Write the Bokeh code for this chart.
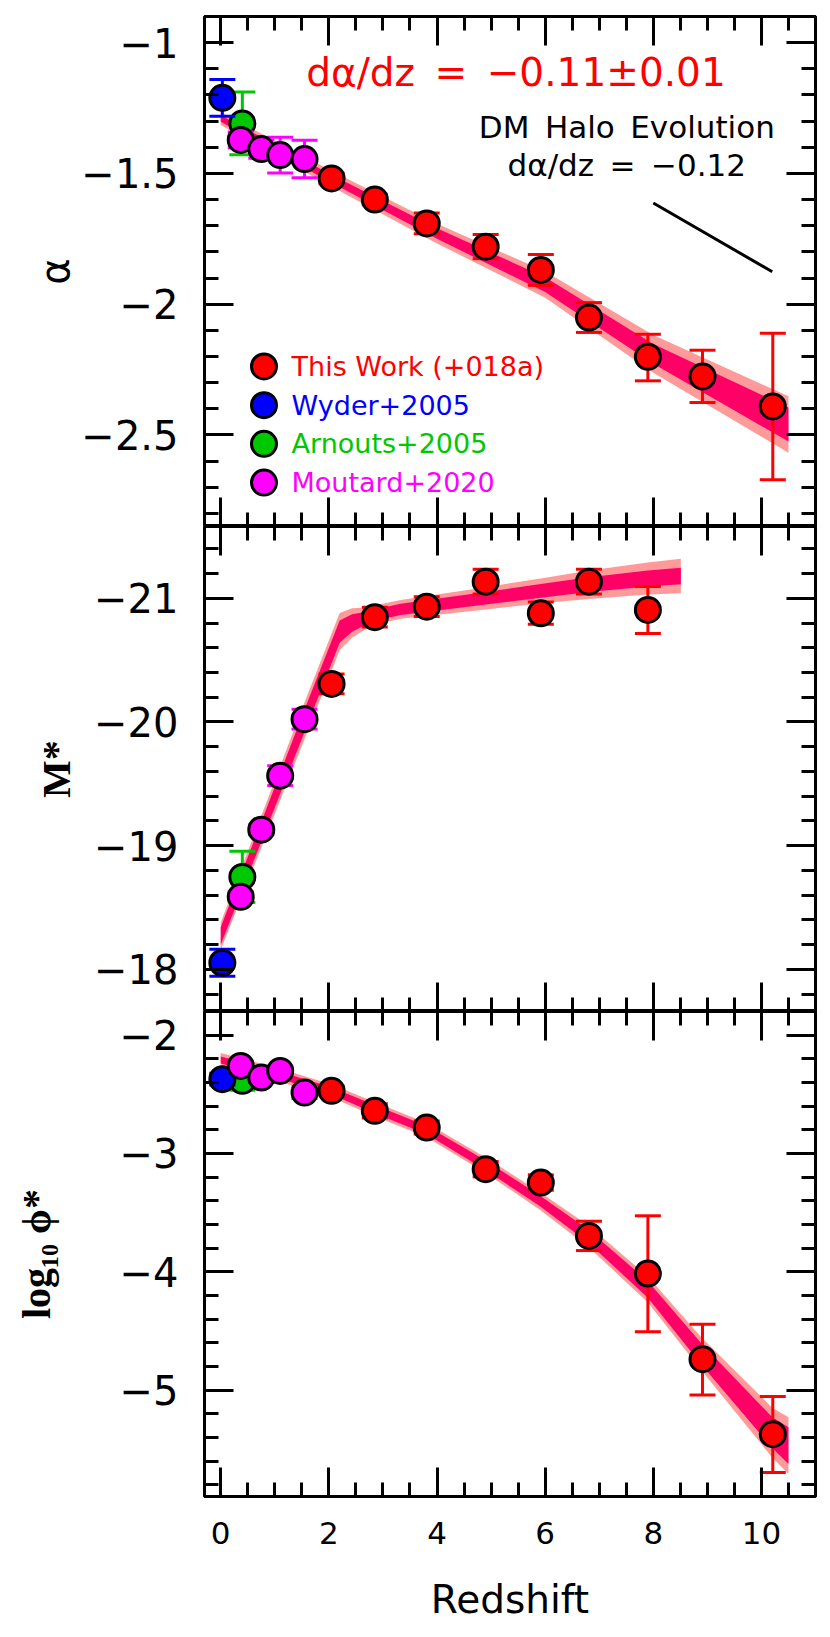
import numpy as np
from bokeh.plotting import figure
from bokeh.models import Range1d, LinearAxis, FixedTicker, Label, CustomJSTickFormatter
from bokeh.layouts import column
from bokeh.embed import file_html
from bokeh.resources import INLINE

# ---------------- data ----------------
# This Work (+018a)
z_this = [2.05, 2.85, 3.81, 4.90, 5.92, 6.81, 7.90, 8.91, 10.21]
alpha_this = [-1.519, -1.600, -1.691, -1.780, -1.869, -2.051, -2.201, -2.276, -2.391]
alpha_this_err_up = [0.02, 0.02, 0.04, 0.046, 0.059, 0.057, 0.086, 0.10, 0.28]
alpha_this_err_dn = [0.02, 0.02, 0.04, 0.046, 0.059, 0.057, 0.092, 0.10, 0.28]
z_this_mstar = [2.05, 2.85, 3.81, 4.90, 5.92, 6.81, 7.90]
mstar_this = [-20.308, -20.847, -20.932, -21.134, -20.879, -21.134, -20.906]
mstar_this_err = [0.08, 0.08, 0.08, 0.10, 0.09, 0.10, 0.19]
phi_this = [-2.471, -2.640, -2.781, -3.133, -3.246, -3.697, -4.015, -4.739, -5.373]
phi_this_err_up = [0.04, 0.06, 0.055, 0.065, 0.065, 0.124, 0.488, 0.296, 0.318]
phi_this_err_dn = [0.04, 0.06, 0.055, 0.065, 0.065, 0.124, 0.493, 0.304, 0.324]

# Wyder+2005
z_wyder = [0.03]
alpha_wyder = [-1.211]
alpha_wyder_err = [0.07]
mstar_wyder = [-18.054]
mstar_wyder_err = [0.11]
phi_wyder = [-2.372]
phi_wyder_err = [0.05]

# Arnouts+2005
z_arnouts = [0.40]
alpha_arnouts = [-1.309]
alpha_arnouts_err = [0.12]
mstar_arnouts = [-18.748]
mstar_arnouts_err = [0.207]
phi_arnouts = [-2.386]
phi_arnouts_err = [0.08]

# Moutard+2020
z_moutard = [0.37, 0.75, 1.10, 1.55]
alpha_moutard = [-1.372, -1.407, -1.430, -1.445]
alpha_moutard_err = [0.03, 0.035, 0.068, 0.072]
mstar_moutard = [-18.587, -19.130, -19.566, -20.023]
mstar_moutard_err = [0.04, 0.04, 0.08, 0.08]
phi_moutard = [-2.260, -2.358, -2.302, -2.485]
phi_moutard_err = [0.04, 0.04, 0.04, 0.05]

# fit posterior bands (centre, inner and outer half widths)
alpha_band_z = [0.0, 2.0, 4.0, 6.0, 8.0, 10.5]
alpha_band_mid = [-1.29, -1.515, -1.73, -1.925, -2.19, -2.46]
alpha_band_in = [0.012, 0.015, 0.02, 0.028, 0.038, 0.065]
alpha_band_out = [0.025, 0.03, 0.038, 0.05, 0.072, 0.108]

mstar_band_z = [0.0, 1.55, 2.2, 2.43, 2.7, 2.9, 3.33, 4.9, 5.92, 6.81, 7.9, 8.51]
mstar_band_mid = [-18.27, -20.01, -20.73, -20.80, -20.84, -20.87, -20.91, -21.0, -21.06, -21.11, -21.16, -21.18]
mstar_band_in = [0.07, 0.09, 0.09, 0.07, 0.05, 0.045, 0.045, 0.05, 0.055, 0.06, 0.065, 0.067]
mstar_band_out = [0.11, 0.15, 0.15, 0.12, 0.085, 0.078, 0.075, 0.09, 0.10, 0.115, 0.13, 0.14]

phi_band_z = [0.0, 1.1, 2.04, 2.87, 3.8, 4.9, 5.9, 6.8, 7.9, 8.9, 10.2, 10.5]
phi_band_mid = [-2.21, -2.34, -2.47, -2.63, -2.80, -3.10, -3.40, -3.70, -4.15, -4.70, -5.36, -5.47]
phi_band_in = [0.03, 0.03, 0.03, 0.035, 0.035, 0.04, 0.045, 0.055, 0.07, 0.09, 0.13, 0.155]
phi_band_out = [0.06, 0.055, 0.055, 0.06, 0.06, 0.065, 0.075, 0.09, 0.11, 0.14, 0.21, 0.24]

# DM halo evolution slope indicator
halo_z = [8.0, 10.2]
halo_alpha = [-1.613, -1.876]

# ticks
x_ticks = [0, 2, 4, 6, 8, 10]
x_tick_labels = ["0", "2", "4", "6", "8", "10"]
alpha_ticks = [-2.5, -2.0, -1.5, -1.0]
alpha_tick_labels = ["\u22122.5", "\u22122", "\u22121.5", "\u22121"]
mstar_ticks = [-21.0, -20.0, -19.0, -18.0]
mstar_tick_labels = ["\u221221", "\u221220", "\u221219", "\u221218"]
phi_ticks = [-5.0, -4.0, -3.0, -2.0]
phi_tick_labels = ["\u22125", "\u22124", "\u22123", "\u22122"]

legend_labels = ["This Work (+018a)", "Wyder+2005", "Arnouts+2005", "Moutard+2020"]

# ---------------- style ----------------
FONT = "DejaVu Sans"
SERIF = "Liberation Serif"
RED, BLUE, GREEN, MAGENTA = "#ff0000", "#0000ff", "#00c800", "#ff00ff"
BAND_DARK, BAND_LIGHT = "#ff0066", "#ff9a9a"
legend_colors = [RED, BLUE, GREEN, MAGENTA]
SP = "\u2002"  # en space: keeps the wide gaps of the original annotations
MS = 25         # marker diameter

x_minor = [float(v) for v in np.arange(0.0, 11.01, 0.5) if v not in x_ticks]
alpha_minor = [round(float(v), 2) for v in np.arange(-2.8, -0.89, 0.1)]
mstar_minor = [round(float(v), 2) for v in np.arange(-21.4, -17.69, 0.2)]
phi_minor = [round(float(v), 2) for v in np.arange(-5.8, -1.79, 0.2)]

x_range = Range1d(-0.3, 11.0)


def label_formatter(tick_values, tick_texts):
    return CustomJSTickFormatter(args=dict(tv=[float(t) for t in tick_values], tl=list(tick_texts)),
                                 code="const i = tv.indexOf(tick); return i < 0 ? '' : tl[i];")


def tick_style(ax, ticker):
    ax.ticker = ticker
    ax.axis_line_color = None
    ax.major_tick_in = 29
    ax.major_tick_out = 0
    ax.minor_tick_in = 14
    ax.minor_tick_out = 0
    ax.major_tick_line_width = 3
    ax.minor_tick_line_width = 3
    ax.major_tick_line_color = "black"
    ax.minor_tick_line_color = "black"
    ax.major_label_text_color = "black"
    ax.axis_label_text_color = "black"


def hide_labels(ax):
    ax.formatter = CustomJSTickFormatter(code="return '';")
    ax.major_label_text_font_size = "0px"
    ax.major_label_standoff = 0
    ax.axis_label = None


def make_panel(y_range, frame_h, top, bottom, yticks, ylabels, yminor,
               ylabel, yfont, ystyle, ystand, show_x):
    p = figure(x_range=x_range, y_range=y_range, frame_width=611, frame_height=frame_h,
               min_border_left=204, min_border_right=15, min_border_top=top,
               min_border_bottom=bottom, output_backend="svg", toolbar_location=None)
    p.grid.visible = False
    p.outline_line_color = "black"
    p.outline_line_width = 3
    p.outline_line_alpha = 1.0
    p.background_fill_color = "white"
    p.border_fill_color = "white"

    xt = FixedTicker(ticks=x_ticks, minor_ticks=x_minor)
    yt = FixedTicker(ticks=yticks, minor_ticks=yminor)

    xa = p.xaxis[0]
    tick_style(xa, xt)
    if show_x:
        xa.formatter = label_formatter(x_ticks, x_tick_labels)
        xa.major_label_text_font = FONT
        xa.major_label_text_font_size = "31px"
        xa.major_label_standoff = 25
        xa.axis_label = "Redshift"
        xa.axis_label_text_font = FONT
        xa.axis_label_text_font_size = "39px"
        xa.axis_label_text_font_style = "normal"
        xa.axis_label_standoff = 30
    else:
        hide_labels(xa)

    ya = p.yaxis[0]
    tick_style(ya, yt)
    ya.formatter = label_formatter(yticks, ylabels)
    ya.major_label_text_font = FONT
    ya.major_label_text_font_size = "40px"
    ya.major_label_standoff = 26
    ya.axis_label = ylabel
    ya.axis_label_text_font = yfont
    ya.axis_label_text_font_size = "40px"
    ya.axis_label_text_font_style = ystyle
    ya.axis_label_standoff = ystand

    ta = LinearAxis()
    tick_style(ta, xt)
    hide_labels(ta)
    p.add_layout(ta, "above")
    ra = LinearAxis()
    tick_style(ra, yt)
    hide_labels(ra)
    p.add_layout(ra, "right")
    return p


def add_band(p, z, mid, inner, outer):
    z = np.asarray(z, float)
    mid = np.asarray(mid, float)
    inner = np.asarray(inner, float)
    outer = np.asarray(outer, float)
    p.varea(x=z, y1=mid - outer, y2=mid + outer, fill_color=BAND_LIGHT)
    p.varea(x=z, y1=mid - inner, y2=mid + inner, fill_color=BAND_DARK)


def add_points(p, x, y, err_dn, err_up, color):
    y_lo = [v - e for v, e in zip(y, err_dn)]
    y_hi = [v + e for v, e in zip(y, err_up)]
    p.segment(x0=x, y0=y_lo, x1=x, y1=y_hi, line_color=color, line_width=3)
    p.scatter(x=list(x) + list(x), y=y_lo + y_hi, marker="dash", size=26,
              line_color=color, line_width=3)
    p.scatter(x=x, y=y, size=MS, fill_color=color, line_color="black", line_width=3)


# ---------------- panel 1: alpha ----------------
p1 = make_panel(Range1d(-2.85, -0.9), 510, 16, 0, alpha_ticks, alpha_tick_labels, alpha_minor,
                "\u03b1", FONT, "normal", 0, False)
add_band(p1, alpha_band_z, alpha_band_mid, alpha_band_in, alpha_band_out)
p1.line(halo_z, halo_alpha, line_color="black", line_width=3)
add_points(p1, z_this, alpha_this, alpha_this_err_dn, alpha_this_err_up, RED)
add_points(p1, z_arnouts, alpha_arnouts, alpha_arnouts_err, alpha_arnouts_err, GREEN)
add_points(p1, z_wyder, alpha_wyder, alpha_wyder_err, alpha_wyder_err, BLUE)
add_points(p1, z_moutard, alpha_moutard, alpha_moutard_err, alpha_moutard_err, MAGENTA)

p1.add_layout(Label(x=5.46, y=-1.116, text=f"d\u03b1/dz{SP}={SP}\u22120.11\u00b10.01", text_color=RED,
                    text_font=FONT, text_font_size="39px", text_align="center",
                    text_baseline="middle"))
p1.add_layout(Label(x=7.51, y=-1.324, text=f"DM{SP}Halo{SP}Evolution", text_color="black",
                    text_font=FONT, text_font_size="31px", text_align="center",
                    text_baseline="middle"))
p1.add_layout(Label(x=7.51, y=-1.469, text=f"d\u03b1/dz{SP}={SP}\u22120.12", text_color="black",
                    text_font=FONT, text_font_size="31px", text_align="center",
                    text_baseline="middle"))

# legend (drawn by hand so the keys keep the marker size of the plot)
LEG_Z, LEG_TEXT_Z, LEG_Y0, LEG_DY = 0.80, 1.31, -2.238, -0.148
leg_y = [LEG_Y0 + i * LEG_DY for i in range(len(legend_labels))]
p1.scatter(x=[LEG_Z] * len(leg_y), y=leg_y, size=MS, fill_color=legend_colors,
           line_color="black", line_width=3)
for lab, col, yy in zip(legend_labels, legend_colors, leg_y):
    p1.add_layout(Label(x=LEG_TEXT_Z, y=yy, text=lab, text_color=col, text_font=FONT,
                        text_font_size="27px", text_baseline="middle"))

# ---------------- panel 2: M* ----------------
p2 = make_panel(Range1d(-17.66, -21.58), 485, 0, 0, mstar_ticks, mstar_tick_labels, mstar_minor,
                "M*", SERIF, "bold", 12, False)
add_band(p2, mstar_band_z, mstar_band_mid, mstar_band_in, mstar_band_out)
add_points(p2, z_this_mstar, mstar_this, mstar_this_err, mstar_this_err, RED)
add_points(p2, z_arnouts, mstar_arnouts, mstar_arnouts_err, mstar_arnouts_err, GREEN)
add_points(p2, z_wyder, mstar_wyder, mstar_wyder_err, mstar_wyder_err, BLUE)
add_points(p2, z_moutard, mstar_moutard, mstar_moutard_err, mstar_moutard_err, MAGENTA)

# ---------------- panel 3: log phi* ----------------
p3 = make_panel(Range1d(-5.9, -1.8), 485, 0, 138, phi_ticks, phi_tick_labels, phi_minor,
                "log\u2081\u2080 \u03d5*", SERIF, "bold", 58, True)
add_band(p3, phi_band_z, phi_band_mid, phi_band_in, phi_band_out)
add_points(p3, z_this, phi_this, phi_this_err_dn, phi_this_err_up, RED)
add_points(p3, z_arnouts, phi_arnouts, phi_arnouts_err, phi_arnouts_err, GREEN)
add_points(p3, z_wyder, phi_wyder, phi_wyder_err, phi_wyder_err, BLUE)
add_points(p3, z_moutard, phi_moutard, phi_moutard_err, phi_moutard_err, MAGENTA)

layout = column(p1, p2, p3, spacing=0)
open("out.html", "w").write(file_html(layout, INLINE))
